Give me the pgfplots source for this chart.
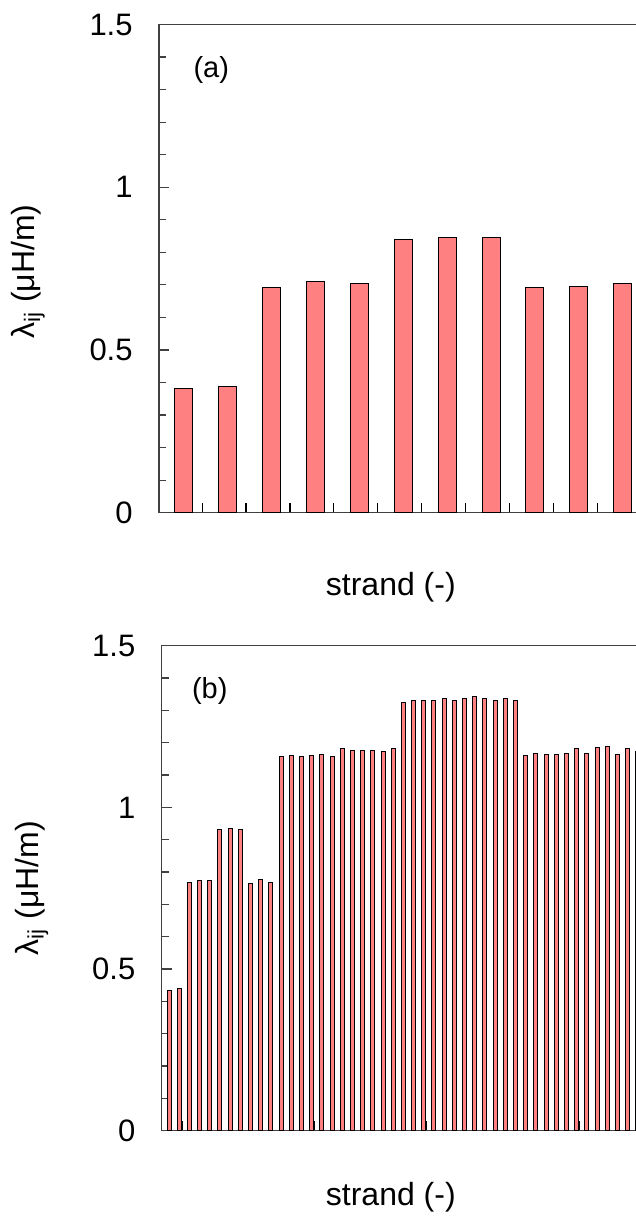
\documentclass[border=0pt]{standalone}
\usepackage{fontspec}
\setmainfont{Liberation Sans}
\usepackage{pgfplots}
\pgfplotsset{compat=1.18}
\definecolor{barpink}{RGB}{255,128,128}
\definecolor{axgray}{RGB}{64,64,64}

\pgfplotsset{
  panel/.style={
    scale only axis,
    anchor=south west,
    ymin=0, ymax=1.5,
    ytick={0,0.5,1,1.5},
    yticklabels={0,0.5,1,1.5},
    minor y tick num=4,
    ytick pos=left,
    xtick pos=bottom,
    xticklabels={},
    tick align=inside,
    major tick length=5bp,
    minor tick length=3.5bp,
    axis line style={axgray, line width=0.6bp},
    every tick/.style={axgray, line width=0.6bp},
    yticklabel style={anchor=east, inner sep=0pt, xshift=-13bp, font=\fontsize{15.5bp}{18bp}\selectfont},
    /pgf/number format/assume math mode=true,
    label style={font=\fontsize{16bp}{19bp}\selectfont},
    ylabel={λ\textsubscript{ij} (μH/m)},
    xlabel={strand (-)},
  }
}

\begin{document}
\begin{tikzpicture}
\useasboundingbox (0,0) rectangle (318bp,612bp);
\clip (0,0) rectangle (318bp,612bp);

% ---------- panel (a) ----------
\begin{axis}[panel,
  at={(79.5bp,355.65bp)},
  width=240.5bp, height=244.1bp,
  xmin=0.437, xmax=11.394,
  xtick={1.42,2.42,3.42,4.42,5.42,6.42,7.42,8.42,9.42,10.42},
  xtick style={black, line width=0.6bp},
  ylabel style={at={(axis description cs:-0.2717,0.494)}, anchor=center},
  xlabel style={at={(axis description cs:0.482,-0.152)}, anchor=center},
]
\addplot[ybar, bar width=9bp, fill=barpink, draw=black, line width=0.5bp] coordinates {
  (1,0.383) (2,0.387) (3,0.693) (4,0.709) (5,0.705) (6,0.839)
  (7,0.846) (8,0.846) (9,0.693) (10,0.696) (11,0.705)
};
\node[font=\fontsize{14.5bp}{17bp}\selectfont] at (axis description cs:0.1087,0.9068) {(a)};
\end{axis}

% ---------- panel (b) ----------
\begin{axis}[panel,
  at={(80.85bp,46.65bp)},
  width=239.15bp, height=242.5bp,
  xmin=0.2836, xmax=47.22,
  xtick={2.24,13.2,15.23,26.2,28.19,30.19,39.22,41.24,43.24},
  xtick style={black, line width=1bp},
  ylabel style={at={(axis description cs:-0.2718,0.5)}, anchor=center},
  xlabel style={at={(axis description cs:0.479,-0.137)}, anchor=center},
]
\addplot[ybar, bar width=2bp, fill=barpink, draw=black, line width=0.5bp] coordinates {
  (1,0.433) (2,0.441) (3,0.769) (4,0.773) (5,0.773) (6,0.930) (7,0.934) (8,0.930)
  (9,0.765) (10,0.778) (11,0.769)
  (12,1.157) (13,1.161) (14,1.157) (15,1.161) (16,1.165) (17,1.157)
  (18,1.181) (19,1.177) (20,1.177) (21,1.177) (22,1.172) (23,1.181)
  (24,1.325) (25,1.329) (26,1.329) (27,1.329) (28,1.336) (29,1.332)
  (30,1.336) (31,1.344) (32,1.336) (33,1.332) (34,1.336) (35,1.332)
  (36,1.161) (37,1.168) (38,1.165) (39,1.165) (40,1.168) (41,1.181)
  (42,1.168) (43,1.185) (44,1.188) (45,1.165) (46,1.181) (47,1.172)
};
\node[font=\fontsize{14.5bp}{17bp}\selectfont] at (axis description cs:0.1004,0.906) {(b)};
\end{axis}
\end{tikzpicture}
\end{document}
